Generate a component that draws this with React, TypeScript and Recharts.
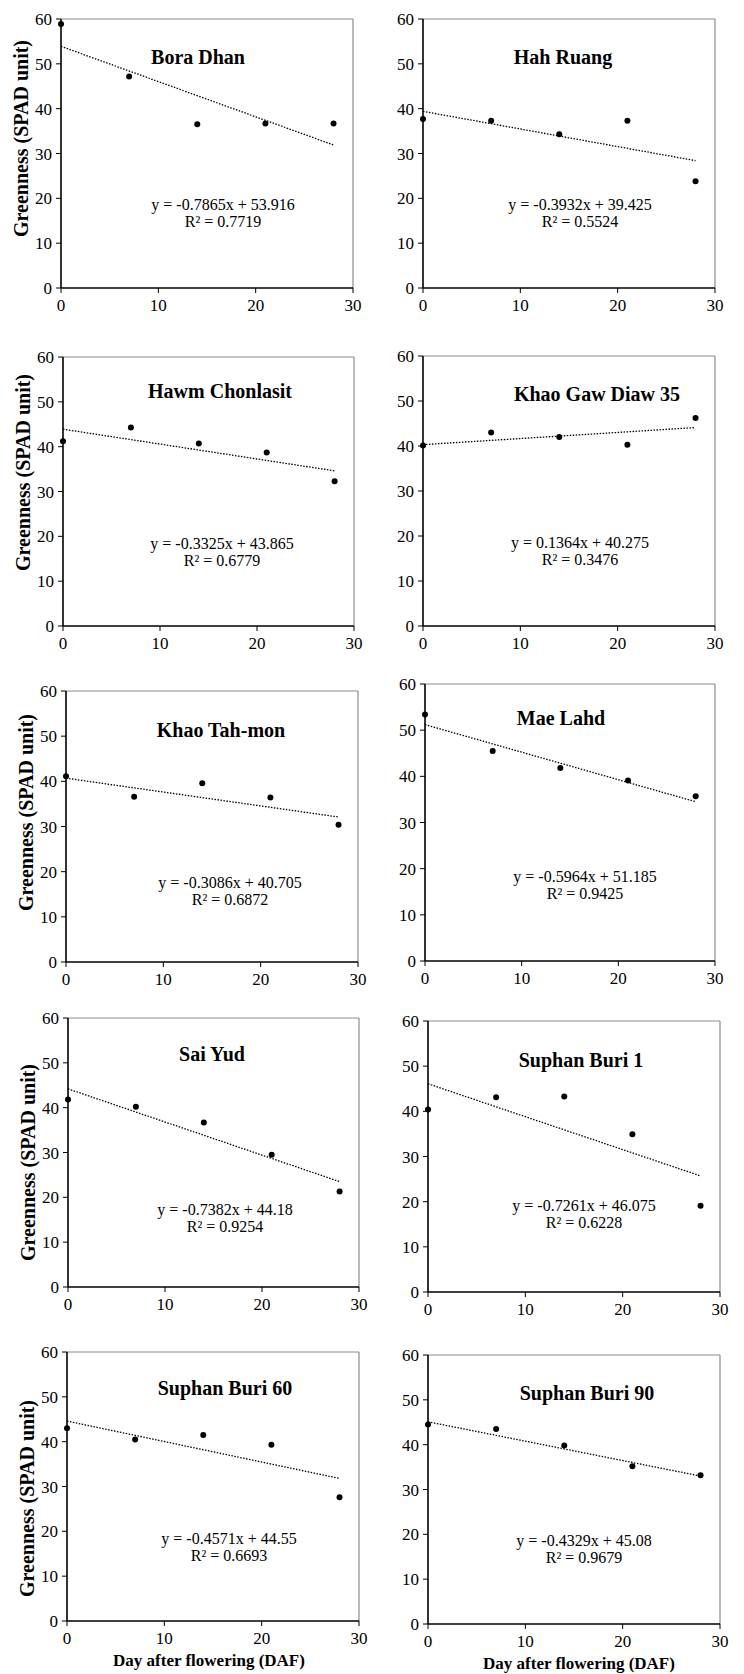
import React from 'react';
import { ScatterChart, Scatter, XAxis, YAxis, ReferenceLine } from 'recharts';

// ---------- data ----------
const days = [0, 7, 14, 21, 28];
const trendDays = [0, 28];
const xTicks = [0, 10, 20, 30];
const yTicks = [0, 10, 20, 30, 40, 50, 60];

const cultivars = [
  'Bora Dhan',
  'Hah Ruang',
  'Hawm Chonlasit',
  'Khao Gaw Diaw 35',
  'Khao Tah-mon',
  'Mae Lahd',
  'Sai Yud',
  'Suphan Buri 1',
  'Suphan Buri 60',
  'Suphan Buri 90',
];

const boraDhan = [58.9, 47.2, 36.5, 36.7, 36.7];
const hahRuang = [37.7, 37.3, 34.3, 37.3, 23.8];
const hawmChonlasit = [41.2, 44.3, 40.7, 38.7, 32.3];
const khaoGawDiaw35 = [40.1, 43.0, 42.0, 40.3, 46.2];
const khaoTahMon = [41.1, 36.6, 39.6, 36.4, 30.4];
const maeLahd = [53.4, 45.5, 41.8, 39.1, 35.7];
const saiYud = [41.8, 40.2, 36.7, 29.5, 21.3];
const suphanBuri1 = [40.4, 43.1, 43.3, 34.9, 19.1];
const suphanBuri60 = [43.0, 40.5, 41.5, 39.3, 27.6];
const suphanBuri90 = [44.5, 43.5, 39.8, 35.2, 33.2];

const seriesValues = [
  boraDhan, hahRuang, hawmChonlasit, khaoGawDiaw35, khaoTahMon,
  maeLahd, saiYud, suphanBuri1, suphanBuri60, suphanBuri90,
];

const equations = [
  'y = -0.7865x + 53.916',
  'y = -0.3932x + 39.425',
  'y = -0.3325x + 43.865',
  'y = 0.1364x + 40.275',
  'y = -0.3086x + 40.705',
  'y = -0.5964x + 51.185',
  'y = -0.7382x + 44.18',
  'y = -0.7261x + 46.075',
  'y = -0.4571x + 44.55',
  'y = -0.4329x + 45.08',
];
const rSquared = [
  'R² = 0.7719',
  'R² = 0.5524',
  'R² = 0.6779',
  'R² = 0.3476',
  'R² = 0.6872',
  'R² = 0.9425',
  'R² = 0.9254',
  'R² = 0.6228',
  'R² = 0.6693',
  'R² = 0.9679',
];
// trendline values at day 0 and day 28
const trendStart = [53.9, 39.4, 43.9, 40.3, 40.7, 51.2, 44.2, 46.1, 44.6, 45.1];
const trendEnd = [31.9, 28.4, 34.6, 44.1, 32.1, 34.5, 23.5, 25.7, 31.8, 33.0];

const yAxisTitle = 'Greenness (SPAD unit)';
const xAxisTitle = 'Day after flowering (DAF)';

// ---------- layout (page pixels) ----------
const plots = [
  { L: 61, T: 19, R: 353, B: 288 },
  { L: 423, T: 19, R: 715, B: 288 },
  { L: 63, T: 357, R: 354, B: 626 },
  { L: 423, T: 356, R: 715, B: 626 },
  { L: 66, T: 691, R: 358, B: 962 },
  { L: 425, T: 684, R: 715, B: 961 },
  { L: 68, T: 1018, R: 359, B: 1287 },
  { L: 428, T: 1021, R: 720, B: 1292 },
  { L: 67, T: 1352, R: 359, B: 1621 },
  { L: 428, T: 1355, R: 720, B: 1624 },
];
// positions relative to plot top-left
const titlePos = [
  { x: 137, y: 38 }, { x: 140, y: 38 }, { x: 157, y: 34 }, { x: 174, y: 38 }, { x: 155, y: 39 },
  { x: 136, y: 34 }, { x: 144, y: 36 }, { x: 153, y: 39 }, { x: 158, y: 36 }, { x: 159, y: 38 },
];
const eqPos = [
  { x: 162, y: 185 }, { x: 157, y: 185 }, { x: 159, y: 186 }, { x: 157, y: 186 }, { x: 164, y: 191 },
  { x: 160, y: 192 }, { x: 157, y: 191 }, { x: 156, y: 184 }, { x: 162, y: 186 }, { x: 156, y: 185 },
];
// vertical shift of the y-axis title from plot centre
const yTitleShift = [-15, 0, -19, 0, -14, 0, 10, 0, 12, 0];

const FONT = '"Liberation Serif", "Times New Roman", Times, serif';
const AXW = 60;
const TOPM = 20;

function Panel({ i }: { i: number }) {
  const p = plots[i];
  const pw = p.R - p.L;
  const ph = p.B - p.T;
  const W = pw + AXW + 20;
  const H = ph + TOPM + 40 + 12;
  const data = days.map((d, k) => ({ x: d, y: seriesValues[i][k] }));
  const isLeft = i % 2 === 0;
  const isBottom = i >= 8;
  const tp = titlePos[i];
  const ep = eqPos[i];
  const ly = TOPM + ph / 2 + yTitleShift[i];
  const tickStyle = { fill: '#000', fontSize: 17, fontFamily: FONT };
  return (
    <div style={{ position: 'absolute', left: p.L - AXW, top: p.T - TOPM, fontFamily: FONT }}>
      <ScatterChart
        width={W}
        height={H}
        margin={{ top: TOPM, right: 20, bottom: 12, left: 0 }}
        style={{ fontFamily: FONT }}
      >
        <XAxis
          type="number"
          dataKey="x"
          domain={[0, 30]}
          ticks={xTicks}
          height={40}
          axisLine={{ stroke: '#000', strokeWidth: 1.6 }}
          tickLine={{ stroke: '#000', strokeWidth: 1 }}
          tickSize={5}
          tickMargin={6}
          tick={tickStyle}
        />
        <YAxis
          type="number"
          dataKey="y"
          domain={[0, 60]}
          ticks={yTicks}
          width={AXW}
          axisLine={{ stroke: '#000', strokeWidth: 1.6 }}
          tickLine={{ stroke: '#000', strokeWidth: 1 }}
          tickSize={5}
          tickMargin={4}
          tick={tickStyle}
        />
        <ReferenceLine y={60} stroke="#8c8c8c" strokeWidth={1.2} />
        <ReferenceLine x={30} stroke="#8c8c8c" strokeWidth={1.2} />
        <ReferenceLine
          segment={[
            { x: trendDays[0], y: trendStart[i] },
            { x: trendDays[1], y: trendEnd[i] },
          ]}
          stroke="#000"
          strokeWidth={1.3}
          strokeDasharray="1.5 1.5"
        />
        <Scatter
          data={data}
          isAnimationActive={false}
          shape={(s: any) => <circle cx={s.cx} cy={s.cy} r={3} fill="#000" />}
        />
        <text
          x={AXW + tp.x}
          y={TOPM + tp.y}
          textAnchor="middle"
          dominantBaseline="central"
          fontFamily={FONT}
          fontWeight="bold"
          fontSize={20}
          fill="#000"
        >
          {cultivars[i]}
        </text>
        <text
          x={AXW + ep.x}
          y={TOPM + ep.y}
          textAnchor="middle"
          dominantBaseline="central"
          fontFamily={FONT}
          fontSize={16}
          fill="#000"
        >
          {equations[i]}
        </text>
        <text
          x={AXW + ep.x}
          y={TOPM + ep.y + 17}
          textAnchor="middle"
          dominantBaseline="central"
          fontFamily={FONT}
          fontSize={16}
          fill="#000"
        >
          {rSquared[i]}
        </text>
        {isLeft && (
          <text
            x={AXW - 40}
            y={ly}
            textAnchor="middle"
            dominantBaseline="central"
            fontFamily={FONT}
            fontWeight="bold"
            fontSize={20}
            fill="#000"
            transform={`rotate(-90 ${AXW - 40} ${ly})`}
          >
            {yAxisTitle}
          </text>
        )}
        {isBottom && (
          <text
            x={AXW + pw / 2 + (isLeft ? -4 : 5)}
            y={TOPM + ph + 39}
            textAnchor="middle"
            dominantBaseline="central"
            fontFamily={FONT}
            fontWeight="bold"
            fontSize={17}
            fill="#000"
          >
            {xAxisTitle}
          </text>
        )}
      </ScatterChart>
    </div>
  );
}

export default function App() {
  return (
    <div
      style={{
        position: 'absolute',
        left: 0,
        top: 0,
        width: 744,
        height: 1674,
        background: '#fff',
        overflow: 'hidden',
        fontFamily: FONT,
      }}
    >
      {plots.map((_, i) => (
        <Panel key={i} i={i} />
      ))}
    </div>
  );
}
